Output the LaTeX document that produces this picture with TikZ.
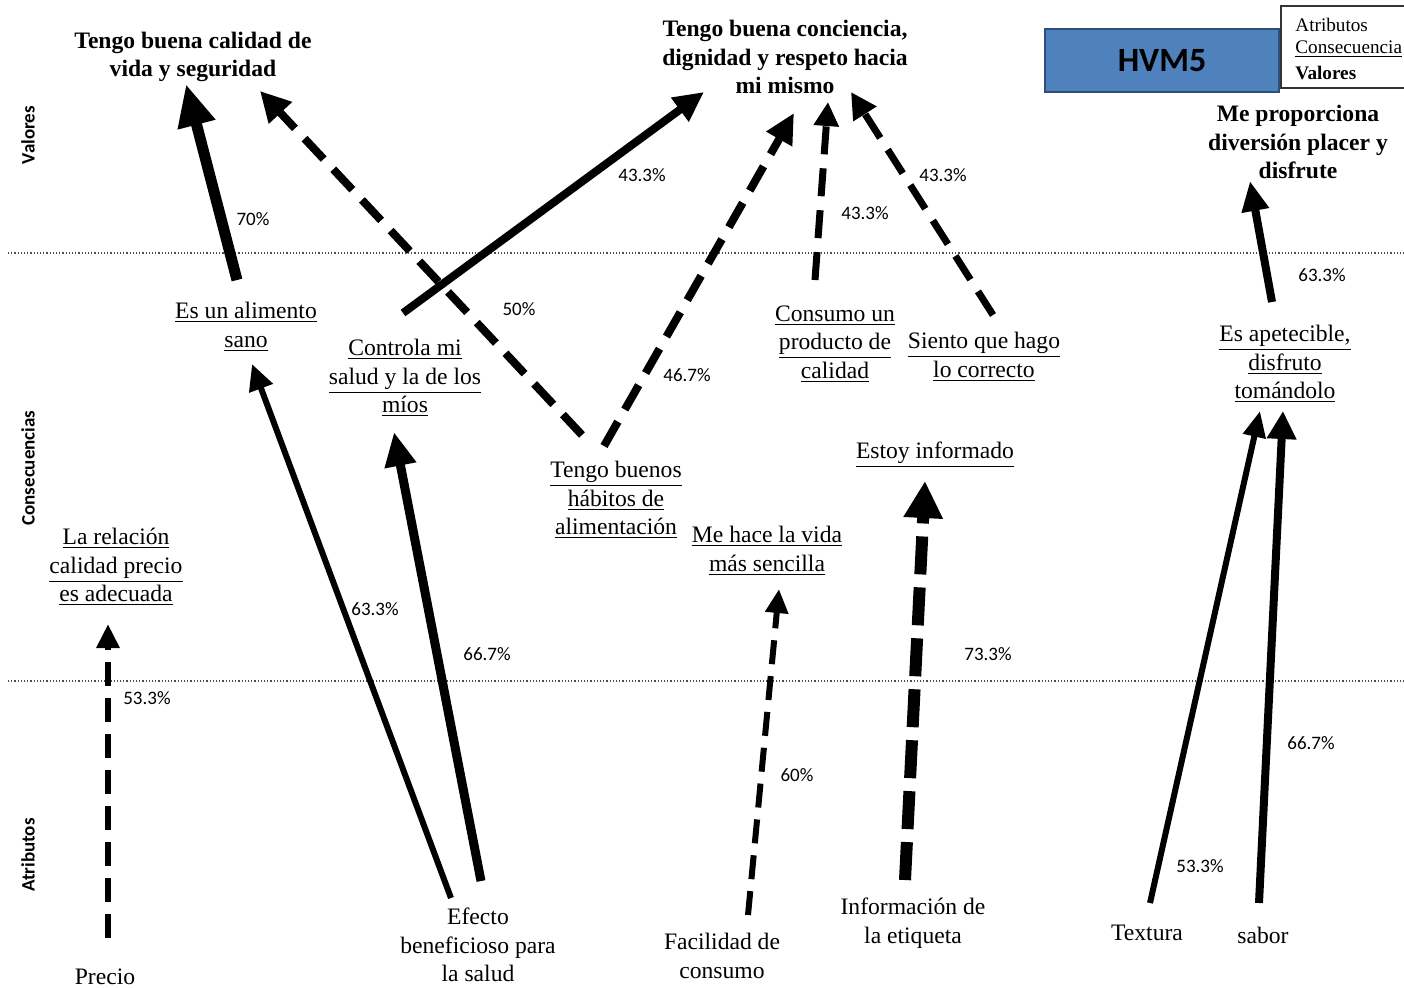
\documentclass[tikz,border=0pt]{standalone}
\usepackage{fontspec}
\setmainfont{Liberation Serif}
\newfontfamily\calib{Carlito}
\usetikzlibrary{arrows.meta}
\definecolor{hvmblue}{HTML}{4F81BD}
\definecolor{hvmedge}{HTML}{2F4F78}
\tikzset{
  txt/.style={align=center,inner sep=0pt,font=\fontsize{11.8}{14.3}\selectfont},
  val/.style={align=center,inner sep=0pt,font=\fontsize{11.8}{14.3}\selectfont\bfseries},
  pct/.style={inner sep=0pt,font=\calib\fontsize{9.5}{11}\selectfont},
  axislbl/.style={rotate=90,inner sep=0pt,font=\calib\bfseries\fontsize{9.5}{11}\selectfont},
  sep/.style={line width=0.6pt,dash pattern=on 0.6pt off 1pt,black!70},
  dsh/.style={dash pattern=on 14pt off 7pt},
  dshs/.style={dash pattern=on 12pt off 6pt},
}
\begin{document}
\begin{tikzpicture}[x=0.5pt,y=-0.5pt]
\useasboundingbox (0,0) rectangle (1404,987);
% separators
\draw[sep] (8,253) -- (1404,253);
\draw[sep] (8,681) -- (1404,681);
% axis labels
\node[axislbl] (axv) at (28,135) {Valores};
\node[axislbl] (axc) at (28,468) {Consecuencias};
\node[axislbl] (axa) at (28,855) {Atributos};
% title and legend
\node[draw=hvmedge,line width=1pt,fill=hvmblue,minimum width=117pt,minimum height=31.5pt,inner sep=0pt,font=\calib\bfseries\fontsize{17}{20}\selectfont] (title) at (1162,60.5) {HVM5};
\draw[line width=0.8pt,black!80] (1281,6) rectangle (1410,88);
\node[anchor=west,inner sep=0pt,font=\fontsize{9.6}{12}\selectfont] (lga) at (1295,25) {Atributos};
\node[anchor=west,inner sep=0pt,font=\fontsize{9.6}{12}\selectfont] (lgc) at (1295,49) {\underline{Consecuencia}};
\node[anchor=west,inner sep=0pt,font=\fontsize{9.6}{12}\selectfont\bfseries] (lgv) at (1295,73) {Valores};
% values
\node[val] (v1) at (193,57) {Tengo buena calidad de\\vida y seguridad};
\node[val] (v2) at (785,57) {Tengo buena conciencia,\\dignidad y respeto hacia\\mi mismo};
\node[val] (v3) at (1298,142) {Me proporciona\\diversión placer y\\disfrute};
% consequences
\node[txt] (c1) at (246,327) {\underline{Es un alimento}\\\underline{sano}};
\node[txt] (c2) at (405,378) {\underline{Controla mi}\\\underline{salud y la de los}\\\underline{míos}};
\node[txt] (c3) at (616,500) {\underline{Tengo buenos}\\\underline{hábitos de}\\\underline{alimentación}};
\node[txt] (c4) at (835,344) {\underline{Consumo un}\\\underline{producto de}\\\underline{calidad}};
\node[txt] (c5) at (984,357) {\underline{Siento que hago}\\\underline{lo correcto}};
\node[txt] (c6) at (1285,364) {\underline{Es apetecible,}\\\underline{disfruto}\\\underline{tomándolo}};
\node[txt] (c7) at (935,455) {\underline{Estoy informado}};
\node[txt] (c8) at (767,551) {\underline{Me hace la vida}\\\underline{más sencilla}};
\node[txt] (c9) at (116,567) {\underline{La relación}\\\underline{calidad precio}\\\underline{es adecuada}};
% attributes
\node[txt] (a1) at (105,977) {Precio};
\node[txt] (a2) at (478,945) {Efecto\\beneficioso para\\la salud};
\node[txt] (a3) at (722,956) {Facilidad de\\consumo};
\node[txt] (a4) at (913,923) {Información de\\la etiqueta};
\node[txt] (a5) at (1147,933) {Textura};
\node[txt] (a6) at (1263,935) {sabor};
% connector end points
\coordinate (c1v1s) at (237,280);  \coordinate (c1v1e) at (186,84);
\coordinate (c3v1s) at (582,435);  \coordinate (c3v1e) at (260,91);
\coordinate (c2v2s) at (403,313);  \coordinate (c2v2e) at (704,92);
\coordinate (c3v2s) at (604,446);  \coordinate (c3v2e) at (794,113);
\coordinate (c4v2s) at (815,280);  \coordinate (c4v2e) at (828,102);
\coordinate (c5v2s) at (993,315);  \coordinate (c5v2e) at (851,92);
\coordinate (c6v3s) at (1272,302); \coordinate (c6v3e) at (1250,181);
\coordinate (a2c1s) at (451,898);  \coordinate (a2c1e) at (252,364);
\coordinate (a2c2s) at (481,881);  \coordinate (a2c2e) at (394,432);
\coordinate (a1c9s) at (108,938);  \coordinate (a1c9e) at (108,624);
\coordinate (a3c8s) at (748,915);  \coordinate (a3c8e) at (779,589);
\coordinate (a4c7s) at (905,880);  \coordinate (a4c7e) at (925,481);
\coordinate (a5c6s) at (1150,903); \coordinate (a5c6e) at (1260,411);
\coordinate (a6c6s) at (1259,903); \coordinate (a6c6e) at (1283,411);
% connectors
\draw[line width=5.5pt,-{Triangle[length=21pt,width=18pt]}] (c1v1s) -- (c1v1e);
\draw[line width=4pt,dsh,-{Triangle[length=15pt,width=15pt]}] (c3v1s) -- (c3v1e);
\draw[line width=4pt,-{Triangle[length=15pt,width=14pt]}] (c2v2s) -- (c2v2e);
\draw[line width=4pt,dsh,-{Triangle[length=15pt,width=14pt]}] (c3v2s) -- (c3v2e);
\draw[line width=3.5pt,dsh,-{Triangle[length=12pt,width=12pt]}] (c4v2s) -- (c4v2e);
\draw[line width=3.5pt,dsh,-{Triangle[length=13pt,width=13pt]}] (c5v2s) -- (c5v2e);
\draw[line width=4pt,-{Triangle[length=15pt,width=13pt]}] (c6v3s) -- (c6v3e);
\draw[line width=3pt,-{Triangle[length=13pt,width=12pt]}] (a2c1s) -- (a2c1e);
\draw[line width=4.5pt,-{Triangle[length=17pt,width=15pt]}] (a2c2s) -- (a2c2e);
\draw[line width=3pt,dshs,-{Triangle[length=12pt,width=11pt]}] (a1c9s) -- (a1c9e);
\draw[line width=3pt,dshs,-{Triangle[length=12pt,width=11pt]}] (a3c8s) -- (a3c8e);
\draw[line width=6pt,dash pattern=on 19pt off 6.5pt,-{Triangle[length=18.5pt,width=18.5pt]}] (a4c7s) -- (a4c7e);
\draw[line width=3pt,-{Triangle[length=13pt,width=11pt]}] (a5c6s) -- (a5c6e);
\draw[line width=4pt,-{Triangle[length=14pt,width=14pt]}] (a6c6s) -- (a6c6e);
% percentages
\node[pct] (p1) at (253,219) {70\%};
\node[pct] (p2) at (519,309) {50\%};
\node[pct] (p3) at (642,175) {43.3\%};
\node[pct] (p4) at (687,375) {46.7\%};
\node[pct] (p5) at (865,213) {43.3\%};
\node[pct] (p6) at (943,175) {43.3\%};
\node[pct] (p7) at (1322,275) {63.3\%};
\node[pct] (p8) at (375,609) {63.3\%};
\node[pct] (p9) at (487,654) {66.7\%};
\node[pct] (p10) at (147,698) {53.3\%};
\node[pct] (p11) at (797,775) {60\%};
\node[pct] (p12) at (988,654) {73.3\%};
\node[pct] (p13) at (1200,866) {53.3\%};
\node[pct] (p14) at (1311,743) {66.7\%};
\end{tikzpicture}
\end{document}
